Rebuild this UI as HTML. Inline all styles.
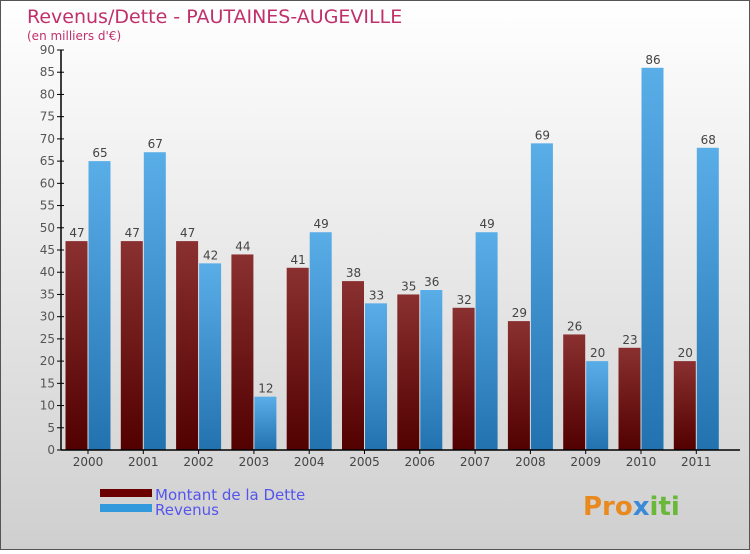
<!DOCTYPE html>
<html><head><meta charset="utf-8"><style>
body{margin:0}
#c{width:750px;height:550px;position:relative;font-family:"DejaVu Sans","Liberation Sans",sans-serif}
</style></head><body>
<div id="c">
<svg id="s" width="750" height="550" xmlns="http://www.w3.org/2000/svg">
<defs>
<linearGradient id="bg" x1="0" y1="0" x2="0" y2="1"><stop offset="0" stop-color="#ffffff"/><stop offset="1" stop-color="#cfcfcf"/></linearGradient>
<linearGradient id="gd" x1="0" y1="0" x2="0" y2="1"><stop offset="0" stop-color="#8a3030"/><stop offset="1" stop-color="#520000"/></linearGradient>
<linearGradient id="gr" x1="0" y1="0" x2="0" y2="1"><stop offset="0" stop-color="#5aaee8"/><stop offset="1" stop-color="#2272b0"/></linearGradient>
</defs>
<rect x="0.5" y="0.5" width="749" height="549" fill="url(#bg)" stroke="#555"/>
<text x="27" y="23" font-size="19" fill="#c0306a">Revenus/Dette - PAUTAINES-AUGEVILLE</text>
<text x="27" y="40" font-size="12" fill="#c0306a">(en milliers d'€)</text>
<g id="plot"></g>
<rect x="100" y="489" width="52" height="8" fill="#6a0000"/>
<text x="155" y="500" font-size="15" fill="#5555ee">Montant de la Dette</text>
<rect x="100" y="504" width="52" height="8" fill="#3399dd"/>
<text x="155" y="515" font-size="15" fill="#5555ee">Revenus</text>
<text x="583" y="515" font-size="26" font-weight="bold" fill="#e98a20">Pro<tspan fill="#3a8ad8">x</tspan><tspan fill="#6ab83a">iti</tspan></text>
</svg>
</div>
<script>
const years=["2000","2001","2002","2003","2004","2005","2006","2007","2008","2009","2010","2011"];
const dette=[47,47,47,44,41,38,35,32,29,26,23,20];
const revenus=[65,67,42,12,49,33,36,49,69,20,86,68];
const yTicks=[0,5,10,15,20,25,30,35,40,45,50,55,60,65,70,75,80,85,90];
const NS="http://www.w3.org/2000/svg";
const g=document.getElementById('plot');
const x0=61,y0=450,yTop=50,yMax=90,step=55.3,firstC=88,bw=22;
function y(v){return y0-(v/yMax)*(y0-yTop);}
function xc(i){return firstC+i*step;}
function mk(t,a,txt){const e=document.createElementNS(NS,t);for(const k in a)e.setAttribute(k,a[k]);if(txt!==undefined)e.textContent=txt;g.appendChild(e);return e;}
yTicks.forEach(v=>{
 const l=mk('line',{x1:x0-4,x2:x0+3,y1:y(v),y2:y(v),stroke:'#000'});
 
 
 const t=mk('text',{x:x0-6,y:y(v)+4,'font-size':12,fill:'#555','text-anchor':'end'},v);
 
 
});
years.forEach((yr,i)=>{
 const c=xc(i);
 const b1=mk('rect',{x:c-bw-0.5,y:y(dette[i]),width:bw,height:y0-y(dette[i]),fill:'url(#gd)'});
 
 
 const b2=mk('rect',{x:c+0.5,y:y(revenus[i]),width:bw,height:y0-y(revenus[i]),fill:'url(#gr)'});
 
 
 const l1=mk('text',{x:c-bw/2,y:y(dette[i])-4,'font-size':12,fill:'#444','text-anchor':'middle'},dette[i]);
 
 
 const l2=mk('text',{x:c+bw/2+1,y:y(revenus[i])-4,'font-size':12,fill:'#444','text-anchor':'middle'},revenus[i]);
 
 
 const tk=mk('line',{x1:c,x2:c,y1:y0,y2:y0+4,stroke:'#000'});
 
 
 const xl=mk('text',{x:c,y:y0+16,'font-size':12,fill:'#444','text-anchor':'middle'},yr);
 
 
});
const ax=mk('line',{x1:x0,x2:x0,y1:yTop,y2:y0,stroke:'#000','stroke-width':1.5});


const axx=mk('line',{x1:x0,x2:740,y1:y0,y2:y0,stroke:'#000','stroke-width':1.5});


</script>
</body></html>
